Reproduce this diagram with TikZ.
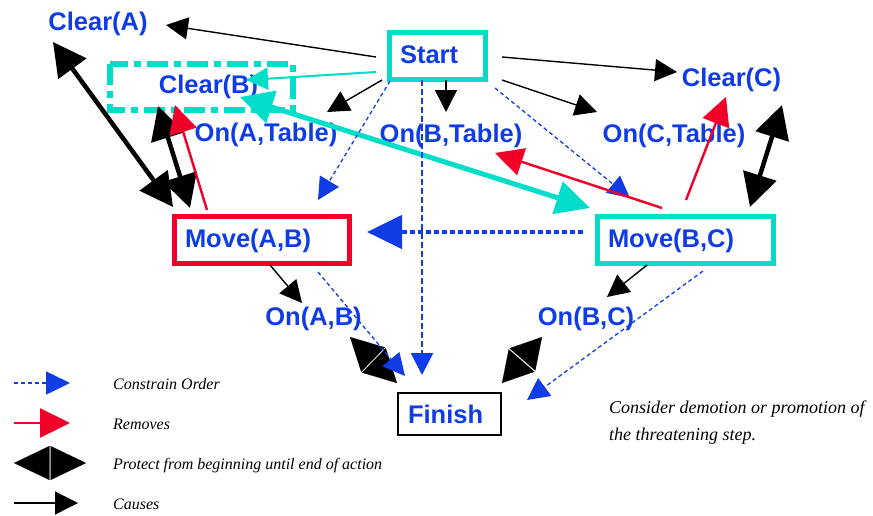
\documentclass[tikz,border=0pt]{standalone}
\usepackage{fontspec}
\newfontfamily\labfont{Liberation Sans}
\newfontfamily\notefont{Liberation Serif}
\usetikzlibrary{arrows.meta,calc}
\definecolor{lblue}{RGB}{16,60,230}
\definecolor{aqua}{RGB}{0,221,200}
\definecolor{alert}{RGB}{240,0,40}

\begin{document}
\begin{tikzpicture}[x=1pt,y=-1pt,
  lbl/.style={font=\labfont\bfseries\fontsize{25.5}{30}\selectfont, text=lblue, inner sep=0pt, anchor=base},
  stepbox/.style={font=\labfont\bfseries\fontsize{25.5}{30}\selectfont, text=lblue, draw=#1,
    line width=5pt, anchor=center, align=left, inner xsep=10.5pt, inner ysep=0pt,
    text height=19pt, text depth=5pt, minimum height=47pt},
  causes/.style={black, line width=1.4pt, -{Triangle[length=22pt,width=22pt]}},
  order/.style={lblue, line width=1.3pt, dash pattern=on 4pt off 3pt, -{Triangle[length=22pt,width=22pt]}},
  removes/.style={alert, line width=2.4pt, -{Triangle[length=28pt,width=28pt]}},
  protect/.style={black, line width=4.5pt, {Triangle[length=33pt,width=34pt]}-{Triangle[length=33pt,width=34pt]}},
  seal/.style={black, line width=0.01pt, {Triangle[length=#1,width=34pt]}-{Triangle[length=#1,width=34pt]}},
  note/.style={font=\notefont\itshape\fontsize{16}{19}\selectfont, inner sep=0pt, anchor=base west},
]
\useasboundingbox (0,0) rectangle (873,515);

% conditions
\node[lbl] (ClearA) at (98,30) {Clear(A)};
\node[lbl] (ClearB) at (208.5,93) {Clear(B)};
\node[lbl] (ClearC) at (731.5,86) {Clear(C)};
\node[lbl] (OnATable) at (266,141) {On(A,Table)};
\node[lbl] (OnBTable) at (451,142) {On(B,Table)};
\node[lbl] (OnCTable) at (674,142) {On(C,Table)};
\node[lbl] (OnAB) at (313.5,325) {On(A,B)};
\node[lbl] (OnBC) at (586,325) {On(B,C)};

% steps
\node[stepbox=aqua, text width=75pt] (Start) at (437.5,56) {Start};
\node[stepbox=alert, text width=154pt] (MoveAB) at (262,240) {Move(A,B)};
\node[stepbox=aqua, text width=155pt] (MoveBC) at (685.5,240) {Move(B,C)};
\node[stepbox=black, line width=1.5pt, inner xsep=10pt, text width=83pt,
      minimum height=42pt, text height=19pt, text depth=1pt] (Finish) at (449.5,414) {Finish};

% threatened condition frame
\draw[aqua, line width=5.5pt, dash pattern=on 21pt off 6pt on 7pt off 6pt]
  ([shift={(-98.5,-29)}]ClearB.base) rectangle ([shift={(84.5,17)}]ClearB.base);

% protected intervals
\draw[protect] ([shift={(-45,12)}]ClearA.base) -- ([shift={(-89,-33)}]MoveAB.center);
\draw[protect] ([shift={(-50.5,13)}]ClearB.base) -- ([shift={(-72,-32)}]MoveAB.center);
\draw[protect] ([shift={(50.5,19)}]ClearC.base) -- ([shift={(64.5,-33)}]MoveBC.center);
\draw[seal=32.25pt] ([shift={(36.5,12)}]OnAB.base) -- ([shift={(-52.5,-31)}]Finish.center);
\draw[seal=29.75pt] ([shift={(-44,12)}]OnBC.base) -- ([shift={(52.5,-31)}]Finish.center);

% effects
\draw[causes] ([shift={(-61.5,1)}]Start.center) -- ([shift={(68,-5)}]ClearA.base);
\draw[causes] ([shift={(-55.5,24)}]Start.center) -- ([shift={(61,-29)}]OnATable.base);
\draw[causes] ([shift={(8.5,24)}]Start.center) -- ([shift={(-5,-30)}]OnBTable.base);
\draw[causes] ([shift={(64.5,1)}]Start.center) -- ([shift={(-54.5,-14)}]ClearC.base);
\draw[causes] ([shift={(64.5,24)}]Start.center) -- ([shift={(-77,-30)}]OnCTable.base);
\draw[causes] ([shift={(8,25)}]MoveAB.center) -- ([shift={(-11.5,-22)}]OnAB.base);
\draw[causes] ([shift={(-38.5,25)}]MoveBC.center) -- ([shift={(21,-28)}]OnBC.base);

% threat
\draw[aqua, line width=2pt, -{Triangle[length=22pt,width=22pt]}]
  ([shift={(-61.5,16)}]Start.center) -- ([shift={(37.5,-13)}]ClearB.base);
\draw[aqua, line width=5pt, {Triangle[length=33pt,width=33pt]}-{Triangle[length=34pt,width=33pt]}]
  ([shift={(31.5,4)}]ClearB.base) -- ([shift={(-95.5,-32)}]MoveBC.center);

% ordering constraints
\draw[order] ([shift={(-47.5,25)}]Start.center) -- ([shift={(56,-40)}]MoveAB.center);
\draw[order] ([shift={(57.5,32)}]Start.center) -- ([shift={(-55.5,-42)}]MoveBC.center);
\draw[order, line width=2.5pt, dash pattern=on 6pt off 3pt]
  ([shift={(-15.5,24)}]Start.center) -- ([shift={(-27.5,-39)}]Finish.center);
\draw[order] ([shift={(56,32)}]MoveAB.center) -- ([shift={(-44.5,-38)}]Finish.center);
\draw[order] ([shift={(17.5,31)}]MoveBC.center) -- ([shift={(77.5,-14)}]Finish.center);
\draw[order, line width=4.5pt, dash pattern=on 5pt off 3pt, -{Triangle[length=35pt,width=33pt]}]
  ([shift={(-102.5,-8)}]MoveBC.center) -- ([shift={(105,-8)}]MoveAB.center);

% deletions
\draw[removes] ([shift={(-55,-30)}]MoveAB.center) -- ([shift={(-33.5,12)}]ClearB.base);
\draw[removes] ([shift={(-23.5,-32)}]MoveBC.center) -- ([shift={(44,11)}]OnBTable.base);
\draw[removes] ([shift={(0.5,-40)}]MoveBC.center) -- ([shift={(-5.5,11)}]ClearC.base);

% key
\coordinate (k1s) at (14,383); \coordinate (k1e) at (70,383);
\coordinate (k2s) at (14,423); \coordinate (k2e) at (70,423);
\coordinate (k3s) at (14,463); \coordinate (k3e) at (86,463);
\coordinate (k4s) at (14,503); \coordinate (k4e) at (78,503);
\draw[order, line width=1.5pt, -{Triangle[length=24pt,width=23pt]}] (k1s) -- (k1e);
\draw[removes, -{Triangle[length=30pt,width=29pt]}] (k2s) -- (k2e);
\draw[seal=35.5pt] (k3s) -- (k3e);
\draw[causes, -{Triangle[length=23pt,width=23pt]}] (k4s) -- (k4e);
\node[note] (key1) at (113,389) {Constrain Order};
\node[note] (key2) at (113,429) {Removes};
\node[note] (key3) at (113,469) {Protect from beginning until end of action};
\node[note] (key4) at (113,509) {Causes};

\node[note, font=\notefont\itshape\fontsize{18}{27}\selectfont, align=left] (hint) at (609,440)
  {Consider demotion or promotion of\\the threatening step.};
\end{tikzpicture}
\end{document}
